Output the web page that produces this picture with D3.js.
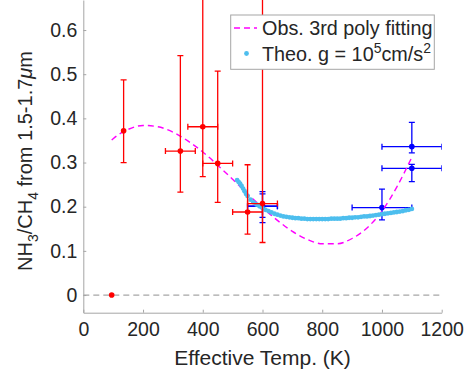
<!DOCTYPE html>
<html>
<head>
<meta charset="utf-8">
<script src="https://cdn.jsdelivr.net/npm/d3@7"></script>
<style>
  body { margin: 0; background: #fff; }
  svg text { font-family: "Liberation Sans", Arial, Helvetica, sans-serif; fill: #262626; }
</style>
</head>
<body>
<script>
(function(){

    //observed points (red), effective temp in K
    var redTemp  = [95, 135, 325, 400, 450, 550, 600];
    var redRatio = [0, 0.372, 0.326, 0.381, 0.298, 0.188, 0.207];
    var redLow   = [null, 0.300, 0.233, 0.268, 0.210, 0.138, 0.119];
    var redHigh  = [null, 0.487, 0.542, 0.700, 0.507, 0.295, 0.720];
    var redXErr  = [0, 0, 50, 50, 50, 50, 50];

    //observed points (blue)
    var blueTemp  = [600, 600, 1000, 1100, 1100];
    var blueRatio = [0.201, 0.201, 0.198, 0.336, 0.287];
    var blueLow   = [0.164, 0.176, 0.170, 0.322, 0.257];
    var blueHigh  = [0.234, 0.229, 0.240, 0.391, 0.296];
    var blueXErr  = [50, 50, 100, 100, 100];

    //3rd order poly fit
    var fitTemp  = [95, 100, 150, 200, 250, 300, 350, 400, 450, 500, 550, 600, 650, 700, 750, 800, 850, 900, 950, 1000, 1050, 1100];
    var fitRatio = [0.351, 0.354, 0.375, 0.384, 0.381, 0.369, 0.349, 0.324, 0.294, 0.262, 0.229, 0.198, 0.169, 0.144, 0.126, 0.116, 0.116, 0.128, 0.152, 0.190, 0.245, 0.312];

    //theoretical model, g = 1e5 cm/s2
    var theoTemp  = [515, 520, 525, 530, 535, 540, 545, 550, 560, 570, 580, 590, 600, 610, 620, 630, 640, 650, 660, 670, 680, 690, 700,
                     710, 720, 730, 740, 750, 760, 770, 780, 790, 800, 810, 820, 830, 840, 850, 860, 870, 880, 890, 900,
                     910, 920, 930, 940, 950, 960, 970, 980, 990, 1000, 1010, 1020, 1030, 1040, 1050, 1060, 1070, 1080, 1090, 1100];
    var theoRatio = [0.260, 0.256, 0.252, 0.247, 0.241, 0.235, 0.229, 0.224, 0.216, 0.210, 0.205, 0.201, 0.197, 0.193, 0.190, 0.187, 0.184, 0.182, 0.180, 0.178, 0.177, 0.176, 0.175,
                     0.174, 0.174, 0.173, 0.173, 0.172, 0.172, 0.172, 0.172, 0.172, 0.172, 0.172, 0.172, 0.173, 0.173, 0.173, 0.173, 0.174, 0.174, 0.175, 0.175,
                     0.176, 0.176, 0.177, 0.178, 0.178, 0.179, 0.180, 0.181, 0.182, 0.183, 0.184, 0.185, 0.186, 0.187, 0.188, 0.189, 0.190, 0.192, 0.193, 0.195];

    var xTicks = [0, 200, 400, 600, 800, 1000, 1200];
    var yTicks = [0, 0.1, 0.2, 0.3, 0.4, 0.5, 0.6];

    var width = 470, height = 370;
    var left = 83.3, right = 441.7, top = 0, bottom = 312.7;

    var svg = d3.select("body").append("svg")
        .attr("width", width)
        .attr("height", height);

    var x = d3.scaleLinear().domain([0, 1200]).range([left, right]);
    var y = d3.scaleLinear().domain([-0.04, 0.668]).range([bottom, top]);

    svg.append("clipPath").attr("id", "plotClip")
        .append("rect")
        .attr("x", left).attr("y", top)
        .attr("width", right - left).attr("height", bottom - top);

    var plot = svg.append("g").attr("clip-path", "url(#plotClip)");

    //zero reference line
    plot.append("line")
        .attr("x1", x(0)).attr("x2", x(1200))
        .attr("y1", y(0)).attr("y2", y(0))
        .attr("stroke", "#a6a6a6")
        .attr("stroke-width", 1.2)
        .attr("stroke-dasharray", "6,4");

    function pack(t, r, lo, hi, xe){
        return t.map(function(d, i){
            return {t: d, r: r[i], lo: lo[i], hi: hi[i], xe: xe[i]};
        });
    }

    function drawErr(data, color){
        var g = plot.append("g")
            .attr("stroke", color)
            .attr("stroke-width", 1.3)
            .attr("fill", "none");
        var cap = 3;
        data.forEach(function(d){
            if (d.lo !== null){
                g.append("line").attr("x1", x(d.t)).attr("x2", x(d.t)).attr("y1", y(d.lo)).attr("y2", y(d.hi));
                g.append("line").attr("x1", x(d.t) - cap).attr("x2", x(d.t) + cap).attr("y1", y(d.lo)).attr("y2", y(d.lo));
                g.append("line").attr("x1", x(d.t) - cap).attr("x2", x(d.t) + cap).attr("y1", y(d.hi)).attr("y2", y(d.hi));
            }
            if (d.xe > 0){
                g.append("line").attr("x1", x(d.t - d.xe)).attr("x2", x(d.t + d.xe)).attr("y1", y(d.r)).attr("y2", y(d.r));
                g.append("line").attr("x1", x(d.t - d.xe)).attr("x2", x(d.t - d.xe)).attr("y1", y(d.r) - cap).attr("y2", y(d.r) + cap);
                g.append("line").attr("x1", x(d.t + d.xe)).attr("x2", x(d.t + d.xe)).attr("y1", y(d.r) - cap).attr("y2", y(d.r) + cap);
            }
        });
        plot.selectAll(null)
            .data(data)
            .enter()
            .append("circle")
            .attr("cx", function(d){ return x(d.t); })
            .attr("cy", function(d){ return y(d.r); })
            .attr("r", 2.8)
            .attr("fill", color);
    }

    //blue observations
    drawErr(pack(blueTemp, blueRatio, blueLow, blueHigh, blueXErr), "#0000ff");

    //poly fit dashed line
    var fitLine = d3.line()
        .x(function(d){ return x(d[0]); })
        .y(function(d){ return y(d[1]); })
        .curve(d3.curveMonotoneX);
    plot.append("path")
        .datum(d3.zip(fitTemp, fitRatio))
        .attr("d", fitLine)
        .attr("fill", "none")
        .attr("stroke", "#ff00ff")
        .attr("stroke-width", 1.4)
        .attr("stroke-dasharray", "6,4");

    //theoretical dots
    plot.selectAll(".theo")
        .data(d3.zip(theoTemp, theoRatio))
        .enter()
        .append("circle")
        .attr("class", "theo")
        .attr("cx", function(d){ return x(d[0]); })
        .attr("cy", function(d){ return y(d[1]); })
        .attr("r", 2.4)
        .attr("fill", "#4dbeee");

    //red observations
    drawErr(pack(redTemp, redRatio, redLow, redHigh, redXErr), "#ff0000");

    //axes
    var xAxis = d3.axisBottom(x)
        .tickValues(xTicks)
        .tickSizeInner(-3)
        .tickSizeOuter(0)
        .tickPadding(9)
        .tickFormat(d3.format("d"));
    var gx = svg.append("g")
        .attr("transform", "translate(0," + bottom + ")")
        .call(xAxis);

    var yAxis = d3.axisLeft(y)
        .tickValues(yTicks)
        .tickSizeInner(-3)
        .tickSizeOuter(0)
        .tickPadding(6)
        .tickFormat(function(d){ return d === 0 ? "0" : d3.format(".1f")(d); });
    var gy = svg.append("g")
        .attr("transform", "translate(" + left + ",0)")
        .call(yAxis);

    [gx, gy].forEach(function(g){
        g.select(".domain").attr("stroke", "#a6a6a6");
        g.selectAll(".tick line").attr("stroke", "#a6a6a6");
        g.selectAll(".tick text")
            .attr("font-size", 19.5)
            .attr("font-family", "Liberation Sans, Arial, sans-serif")
            .attr("fill", "#262626");
    });

    //x label
    svg.append("text")
        .attr("x", (left + right) / 2)
        .attr("y", 365)
        .attr("text-anchor", "middle")
        .attr("font-size", 21)
        .text("Effective Temp. (K)");

    //y label with subscripts
    var yl = svg.append("text")
        .attr("transform", "translate(31.5,161) rotate(-90)")
        .attr("text-anchor", "middle")
        .attr("font-size", 20);
    yl.append("tspan").text("NH");
    yl.append("tspan").attr("font-size", 14).attr("dy", 6).text("3");
    yl.append("tspan").attr("dy", -6).text("/CH");
    yl.append("tspan").attr("font-size", 14).attr("dy", 6).text("4");
    yl.append("tspan").attr("dy", -6).text(" from 1.5-1.7");
    yl.append("tspan").attr("font-style", "italic").text("\u03bc");
    yl.append("tspan").text("m");

    //legend
    var lg = svg.append("g");
    lg.append("rect")
        .attr("x", 230.7).attr("y", 15)
        .attr("width", 203.6).attr("height", 54.3)
        .attr("fill", "#fff")
        .attr("stroke", "#a6a6a6")
        .attr("stroke-width", 1);
    lg.append("line")
        .attr("x1", 234).attr("x2", 257)
        .attr("y1", 28).attr("y2", 28)
        .attr("stroke", "#ff00ff")
        .attr("stroke-width", 1.4)
        .attr("stroke-dasharray", "6,4");
    lg.append("text")
        .attr("x", 262).attr("y", 35)
        .attr("font-size", 19.8)
        .text("Obs. 3rd poly fitting");
    lg.append("circle")
        .attr("cx", 246.5).attr("cy", 53.5)
        .attr("r", 2.4)
        .attr("fill", "#4dbeee");
    var t2 = lg.append("text")
        .attr("x", 262).attr("y", 61)
        .attr("font-size", 19.8);
    t2.append("tspan").text("Theo. g = 10");
    t2.append("tspan").attr("font-size", 14).attr("dy", -8).text("5");
    t2.append("tspan").attr("dy", 8).text("cm/s");
    t2.append("tspan").attr("font-size", 14).attr("dy", -8).text("2");

})();
</script>
</body>
</html>
